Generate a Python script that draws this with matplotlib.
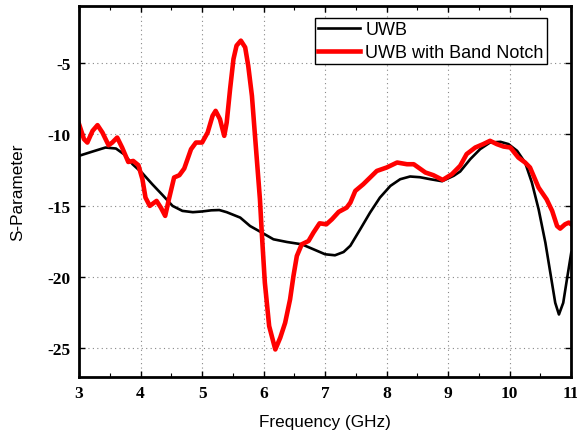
import matplotlib
matplotlib.use("Agg")
import matplotlib.pyplot as plt
from matplotlib.ticker import MultipleLocator

plt.rcParams["axes.unicode_minus"] = False

# UWB (black)
uwb_f = [3.0, 3.22, 3.43, 3.60, 3.73, 3.87, 4.03, 4.19, 4.355, 4.52, 4.68, 4.85,
         5.0, 5.15, 5.28, 5.40, 5.62, 5.78, 5.97, 6.16, 6.38, 6.62, 6.81, 7.0,
         7.16, 7.30, 7.41, 7.57, 7.73, 7.89, 8.06, 8.22, 8.38, 8.54, 8.71, 8.90,
         9.09, 9.195, 9.36, 9.52, 9.68, 9.85, 9.98, 10.12, 10.25, 10.36, 10.47,
         10.58, 10.66, 10.74, 10.80, 10.87, 10.93, 11.0]
uwb_s = [-11.5, -11.2, -10.92, -10.99, -11.39, -12.09, -12.72, -13.49, -14.24,
         -15.01, -15.36, -15.45, -15.4, -15.32, -15.3, -15.45, -15.83, -16.42,
         -16.88, -17.35, -17.54, -17.7, -18.05, -18.4, -18.47, -18.24, -17.8,
         -16.65, -15.48, -14.43, -13.61, -13.14, -12.95, -13.0, -13.14, -13.28,
         -12.9, -12.6, -11.73, -11.03, -10.57, -10.52, -10.68, -11.15, -11.97,
         -13.37, -15.25, -17.59, -19.69, -21.8, -22.62, -21.8, -20.16, -18.29]

# UWB with band notch (red)
notch_f = [3.0, 3.08, 3.135, 3.22, 3.30, 3.38, 3.48, 3.54, 3.62, 3.70, 3.80,
           3.88, 3.965, 4.03, 4.08, 4.15, 4.26, 4.33, 4.40, 4.46, 4.545, 4.63,
           4.71, 4.82, 4.90, 5.0, 5.09, 5.17, 5.22, 5.29, 5.36, 5.40, 5.455,
           5.51, 5.56, 5.63, 5.70, 5.75, 5.81, 5.86, 5.94, 5.97, 6.02, 6.09,
           6.19, 6.27, 6.35, 6.43, 6.485, 6.54, 6.62, 6.73, 6.81, 6.91, 7.02,
           7.11, 7.22, 7.35, 7.41, 7.49, 7.62, 7.84, 8.0, 8.17, 8.33, 8.44,
           8.63, 8.76, 8.91, 9.06, 9.195, 9.30, 9.44, 9.57, 9.68, 9.79, 9.90,
           10.01, 10.14, 10.25, 10.33, 10.47, 10.60, 10.69, 10.77, 10.82, 10.90,
           10.96, 11.0]
notch_s = [-9.28, -10.33, -10.57, -9.75, -9.35, -9.87, -10.76, -10.57, -10.22,
           -10.92, -11.93, -11.86, -12.16, -13.14, -14.43, -15.01, -14.66, -15.13,
           -15.71, -14.55, -13.02, -12.86, -12.39, -11.04, -10.57, -10.57, -9.87,
           -8.7, -8.35, -8.93, -10.1, -9.17, -6.82, -4.72, -3.78, -3.43, -3.9,
           -5.19, -7.3, -10.1, -14.54, -16.88, -20.39, -23.43, -25.07, -24.25,
           -23.2, -21.56, -19.92, -18.52, -17.7, -17.47, -16.88, -16.23, -16.3,
           -15.95, -15.43, -15.13, -14.78, -13.96, -13.49, -12.56, -12.32, -11.97,
           -12.09, -12.09, -12.67, -12.86, -13.19, -12.79, -12.2, -11.38, -10.92,
           -10.68, -10.45, -10.68, -10.85, -10.92, -11.62, -11.97, -12.32, -13.73,
           -14.55, -15.36, -16.42, -16.6, -16.3, -16.18, -16.3]

fig = plt.figure(figsize=(5.77, 4.35), dpi=100)
ax = fig.add_axes([0.137, 0.131, 0.853, 0.853])

ax.plot(uwb_f, uwb_s, color="black", lw=1.9, label="UWB", solid_joinstyle="round")
ax.plot(notch_f, notch_s, color="#ff0000", lw=3.3, label="UWB with Band Notch",
        solid_joinstyle="round")

ax.set_xlim(3, 11)
ax.set_ylim(-27, -1)
ax.xaxis.set_major_locator(MultipleLocator(1))
ax.xaxis.set_minor_locator(MultipleLocator(0.5))
ax.set_yticks([-5, -10, -15, -20, -25])
ax.grid(True, which="major", linestyle=(0, (1, 3)), color="#888888", lw=0.8)

ax.tick_params(which="both", direction="in", top=True, right=True)
ax.tick_params(which="major", length=4, width=1)
ax.tick_params(which="minor", length=3, width=0.8)
for lab in ax.get_xticklabels() + ax.get_yticklabels():
    lab.set_fontfamily("Liberation Serif")
    lab.set_fontweight("bold")
    lab.set_fontsize(12.5)
ax.tick_params(axis="x", pad=6)
ax.tick_params(axis="y", pad=6)

for sp in ax.spines.values():
    sp.set_linewidth(2)

ax.set_xlabel("Frequency (GHz)", fontfamily="Liberation Sans", fontsize=12.3, labelpad=9)
ax.set_ylabel("S-Parameter", fontfamily="Liberation Sans", fontsize=12.3, labelpad=16)

leg = ax.legend(loc="upper right", bbox_to_anchor=(0.951, 0.968), borderaxespad=0,
                fancybox=False, framealpha=1, edgecolor="black",
                prop={"family": "Liberation Sans", "size": 13},
                handlelength=2.3, handletextpad=0.3, borderpad=0.2, labelspacing=0.3)
leg.get_frame().set_linewidth(1)

fig.savefig("out.png", dpi=100)
